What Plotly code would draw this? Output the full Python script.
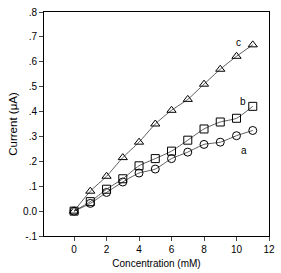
import plotly.graph_objects as go

conc = [0, 1, 2, 3, 4, 5, 6, 7, 8, 9, 10, 11]
curr_a = [0.0, 0.031, 0.075, 0.117, 0.153, 0.169, 0.211, 0.237, 0.268, 0.277, 0.303, 0.324]
curr_b = [0.0, 0.038, 0.088, 0.130, 0.182, 0.211, 0.241, 0.285, 0.330, 0.358, 0.373, 0.421]
curr_c = [0.0, 0.080, 0.140, 0.215, 0.277, 0.350, 0.405, 0.449, 0.510, 0.570, 0.622, 0.668]

y_ticks = [-0.1, 0.0, 0.1, 0.2, 0.3, 0.4, 0.5, 0.6, 0.7, 0.8]
y_ticktext = ["-.1", "0.0", ".1", ".2", ".3", ".4", ".5", ".6", ".7", ".8"]
x_ticks = [0, 2, 4, 6, 8, 10, 12]

labels = ["a", "b", "c"]
label_x = [10.45, 10.4, 10.15]
label_y = [0.245, 0.441, 0.678]

fig = go.Figure()
for ys, sym in [(curr_a, "circle-open"), (curr_b, "square-open"), (curr_c, "triangle-up-open")]:
    fig.add_trace(go.Scatter(
        x=conc, y=ys, mode="lines+markers",
        line=dict(color="#333333", width=0.8, shape="spline", smoothing=0.6),
        marker=dict(symbol=sym, size=8, color="black", line=dict(width=1, color="black")),
        showlegend=False,
    ))

for t, lx, ly in zip(labels, label_x, label_y):
    fig.add_annotation(x=lx, y=ly, text=t, showarrow=False,
                       font=dict(size=10, color="black", family="Liberation Sans, Arial"))

fig.update_layout(
    width=281, height=273,
    margin=dict(l=44, r=6, t=10, b=34),
    paper_bgcolor="white", plot_bgcolor="white",
    font=dict(family="Liberation Sans, Arial", size=10, color="black"),
)
fig.update_xaxes(
    range=[-1.85, 12], tickvals=x_ticks, ticks="outside", ticklen=4,
    showline=True, linecolor="black", linewidth=1, mirror=True,
    showgrid=False, zeroline=False,
    title=dict(text="Concentration (mM)", standoff=5, font=dict(size=10)),
)
fig.update_yaxes(
    range=[-0.1, 0.8], tickvals=y_ticks, ticktext=y_ticktext, ticks="outside", ticklen=4,
    showline=True, linecolor="black", linewidth=1, mirror=True,
    showgrid=False, zeroline=False,
    title=dict(text="Current (μA)", standoff=3, font=dict(size=11.5)),
)

fig.write_html("out.html")
